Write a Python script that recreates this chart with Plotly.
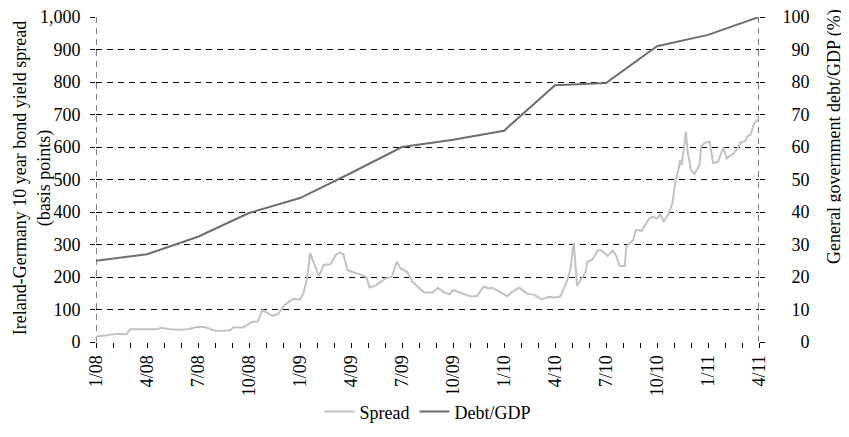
import plotly.graph_objects as go

# months since Jan 2008
spread_month = [0, 0.6, 1.2, 1.8, 2.0, 2.6, 3.2, 3.57, 3.86, 4.35, 5.0, 5.5, 5.9, 6.4, 6.7,
                7.0, 7.5, 7.9, 8.06, 8.65, 9.2, 9.5, 9.8, 10.4, 10.7, 11.1, 11.6, 12.0,
                12.2, 12.4, 12.6, 13.1, 13.4, 13.8, 14.1, 14.35, 14.55, 14.8, 15.2, 15.5,
                15.9, 16.1, 16.5, 17.0, 17.4, 17.7, 17.9, 18.3, 18.6, 19.1, 19.3, 19.8,
                20.1, 20.4, 20.8, 21.0, 22.0, 22.4, 22.8, 23.1, 23.3, 23.8, 24.2, 24.5,
                24.9, 25.2, 25.4, 25.8, 26.2, 26.6, 27.0, 27.3, 27.7, 27.9, 28.1, 28.3,
                28.8, 28.9, 29.2, 29.5, 29.7, 30.1, 30.4, 30.6, 30.8, 31.1, 31.2, 31.6,
                31.75, 32.1, 32.5, 32.7, 33.0, 33.2, 33.4, 33.7, 33.9, 34.1, 34.3, 34.35,
                34.45, 34.7, 34.8, 35.0, 35.2, 35.5, 35.6, 35.8, 36.1, 36.3, 36.6, 36.9,
                37.1, 37.5, 37.7, 37.9, 38.2, 38.3, 38.5, 38.7, 38.95, 39.0]
spread_bp = [16, 21, 25, 24, 39, 39, 39, 39, 44, 39, 38, 40, 46, 46, 40,
             35, 35, 36, 45, 45, 62, 62, 98, 80, 86, 114, 133, 131,
             150, 191, 273, 203, 237, 239, 268, 275, 270, 221, 213, 209,
             199, 168, 175, 195, 201, 247, 227, 216, 186, 160, 152, 152,
             167, 155, 147, 160, 141, 141, 170, 165, 167, 153, 141, 155,
             167, 155, 148, 145, 131, 139, 137, 140, 186, 222, 306, 172,
             216, 247, 254, 281, 283, 265, 281, 265, 234, 234, 293, 314,
             345, 342, 377, 386, 380, 393, 370, 396, 427, 498, 539, 560,
             545, 647, 586, 529, 517, 545, 601, 613, 616, 550, 555, 599,
             565, 580, 593, 613, 619, 632, 639, 671, 686, 688]

debt_month = [0, 3, 6, 9, 12, 15, 18, 21, 24, 27, 30, 33, 36, 39]
debt_pct = [25, 27, 32.4, 39.7, 44.3, 52, 60, 62.2, 65, 79, 79.7, 91, 94.5, 100]

tick_month = list(range(0, 40, 3))
tick_label = ["1/08", "4/08", "7/08", "10/08", "1/09", "4/09", "7/09", "10/09",
              "1/10", "4/10", "7/10", "10/10", "1/11", "4/11"]

right_vals = list(range(0, 101, 10))
right_text = [str(v).rjust(3, "\u2007") for v in right_vals]

FONT = "Liberation Serif, Times New Roman, serif"
FS = 18

fig = go.Figure()
fig.add_trace(go.Scatter(x=spread_month, y=spread_bp, mode="lines", name="Spread",
                         line=dict(color="#c2c2c2", width=2)))
fig.add_trace(go.Scatter(x=debt_month, y=debt_pct, mode="lines", name="Debt/GDP",
                         yaxis="y2", line=dict(color="#6e6e6e", width=2)))

grid = dict(color="black", width=1, dash="6px,5px")
for xv in (0, 39):
    fig.add_shape(type="line", xref="x", yref="paper", x0=xv, x1=xv, y0=0, y1=1,
                  line=grid, layer="below")

# page body adds an 8px offset, so margins are shifted up/left by 8
fig.update_layout(
    width=849, height=437,
    paper_bgcolor="white", plot_bgcolor="white",
    font=dict(family=FONT, size=FS, color="black"),
    margin=dict(l=88, r=98, t=9, b=103, autoexpand=False),
    showlegend=True,
    legend=dict(orientation="h", x=0.5, xanchor="center", y=-0.215, yanchor="middle",
                font=dict(size=FS), itemwidth=30),
    xaxis=dict(range=[0, 39], tickvals=tick_month, ticktext=tick_label, tickangle=-90,
               showgrid=False, zeroline=False, showline=False, automargin=False,
               ticks="outside", ticklen=5, tickcolor="black", ticklabeloverflow="allow",
               minor=dict(dtick=1, tick0=0, ticks="outside", ticklen=5, tickcolor="black")),
    yaxis=dict(range=[0, 1000], dtick=100, tickformat=",", showgrid=True,
               gridcolor="black", griddash="6px,5px", gridwidth=1, zeroline=False,
               showline=False, ticks="outside", ticklen=5, tickcolor="black",
               automargin=False, ticklabelstandoff=6, ticklabeloverflow="allow"),
    yaxis2=dict(range=[0, 100], overlaying="y", side="right", showgrid=False,
                zeroline=False, showline=False, tickvals=right_vals, ticktext=right_text,
                ticks="outside", ticklen=5, tickcolor="black", ticklabelstandoff=14,
                automargin=False, ticklabeloverflow="allow"),
    annotations=[
        dict(text="Ireland-Germany 10 year bond yield spread<br>(basis points)",
             textangle=-90, xref="paper", yref="paper", x=-0.097, y=0.503,
             xanchor="center", yanchor="middle", showarrow=False,
             font=dict(size=FS, color="black")),
        dict(text="General government debt/GDP (%)", textangle=-90,
             xref="paper", yref="paper", x=1.1146, y=0.634,
             xanchor="center", yanchor="middle", showarrow=False,
             font=dict(size=FS, color="black")),
    ],
)

fig.write_html("out.html")
